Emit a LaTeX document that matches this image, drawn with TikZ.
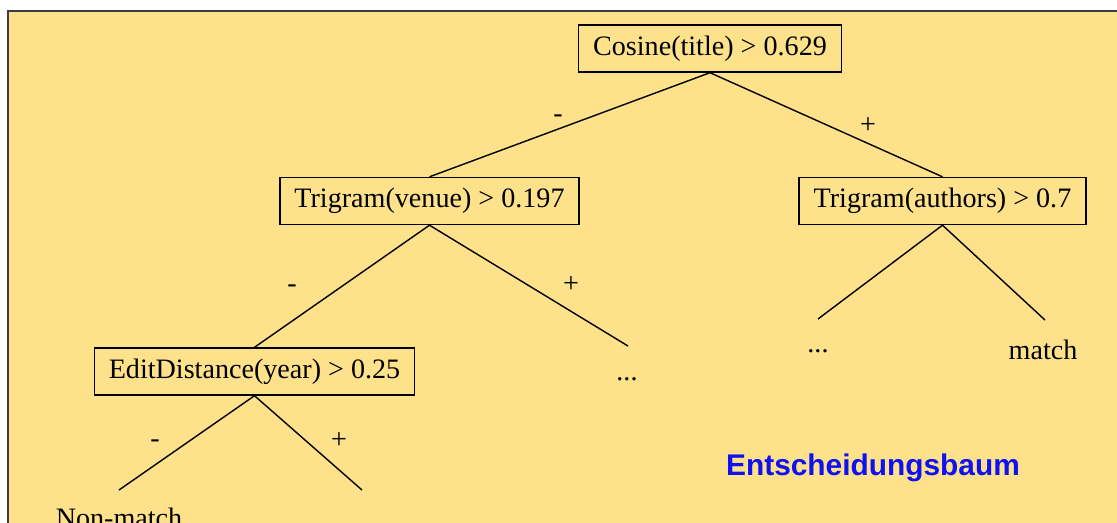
\documentclass[tikz,border=0pt]{standalone}
\usepackage{fontspec}
\setmainfont{Liberation Serif}
\newfontfamily\labelsans{Liberation Sans}
\usetikzlibrary{positioning}
\definecolor{paperyellow}{HTML}{FDE28B}
\definecolor{framegray}{HTML}{3C3C3C}
\definecolor{titleblue}{HTML}{1010F5}

\begin{document}
\begin{tikzpicture}[x=0.02cm, y=-0.02cm, line width=0.8pt,
  test/.style={draw, fill=paperyellow, font=\fontsize{16}{18}\selectfont, inner xsep=0.29cm, minimum height=0.94cm, text depth=0.12cm},
  sgn/.style={font=\fontsize{16}{18}\selectfont},
  leaf/.style={font=\fontsize{16}{18}\selectfont}]
\useasboundingbox (0,0) rectangle (1117,522);
\clip (0,0) rectangle (1117,522);
\draw[framegray, line width=1.5pt, fill=paperyellow] (8,11) rectangle (1140,545);
% tests
\node[test] (root) at (710,48.5) {Cosine(title) > 0.629};
\node[test] (venue) at (429.5,201) {Trigram(venue) > 0.197};
\node[test] (authors) at (942.5,201) {Trigram(authors) > 0.7};
\node[test] (edit) at (254.5,371.5) {EditDistance(year) > 0.25};
% free ends of the branches
\coordinate (venueplus) at (628,346);
\coordinate (authminus) at (818,319);
\coordinate (authplus) at (1045,320);
\coordinate (editminus) at (119,490);
\coordinate (editplus) at (362,490);
% leaves
\node[leaf] (dots1) at (627,379) {...};
\node[leaf] (dots2) at (818,351) {...};
\node[leaf] (match) at (1043,350) {match};
\node[leaf] (nonmatch) at (119,518) {Non-match};
% branches
\draw (root.south) -- (venue.north);
\draw (root.south) -- (authors.north);
\draw (venue.south) -- (edit.north);
\draw (venue.south) -- (venueplus);
\draw (authors.south) -- (authminus);
\draw (authors.south) -- (authplus);
\draw (edit.south) -- (editminus);
\draw (edit.south) -- (editplus);
% signs
\node[sgn] (s1) at (558,119) {-};
\node[sgn] (s2) at (868,126) {+};
\node[sgn] (s3) at (292,289) {-};
\node[sgn] (s4) at (571,285) {+};
\node[sgn] (s5) at (155,444) {-};
\node[sgn] (s6) at (339,441) {+};
\node[font=\labelsans\bfseries\fontsize{17}{20}\selectfont, text=titleblue] (title) at (873,468) {Entscheidungsbaum};
\end{tikzpicture}
\end{document}
